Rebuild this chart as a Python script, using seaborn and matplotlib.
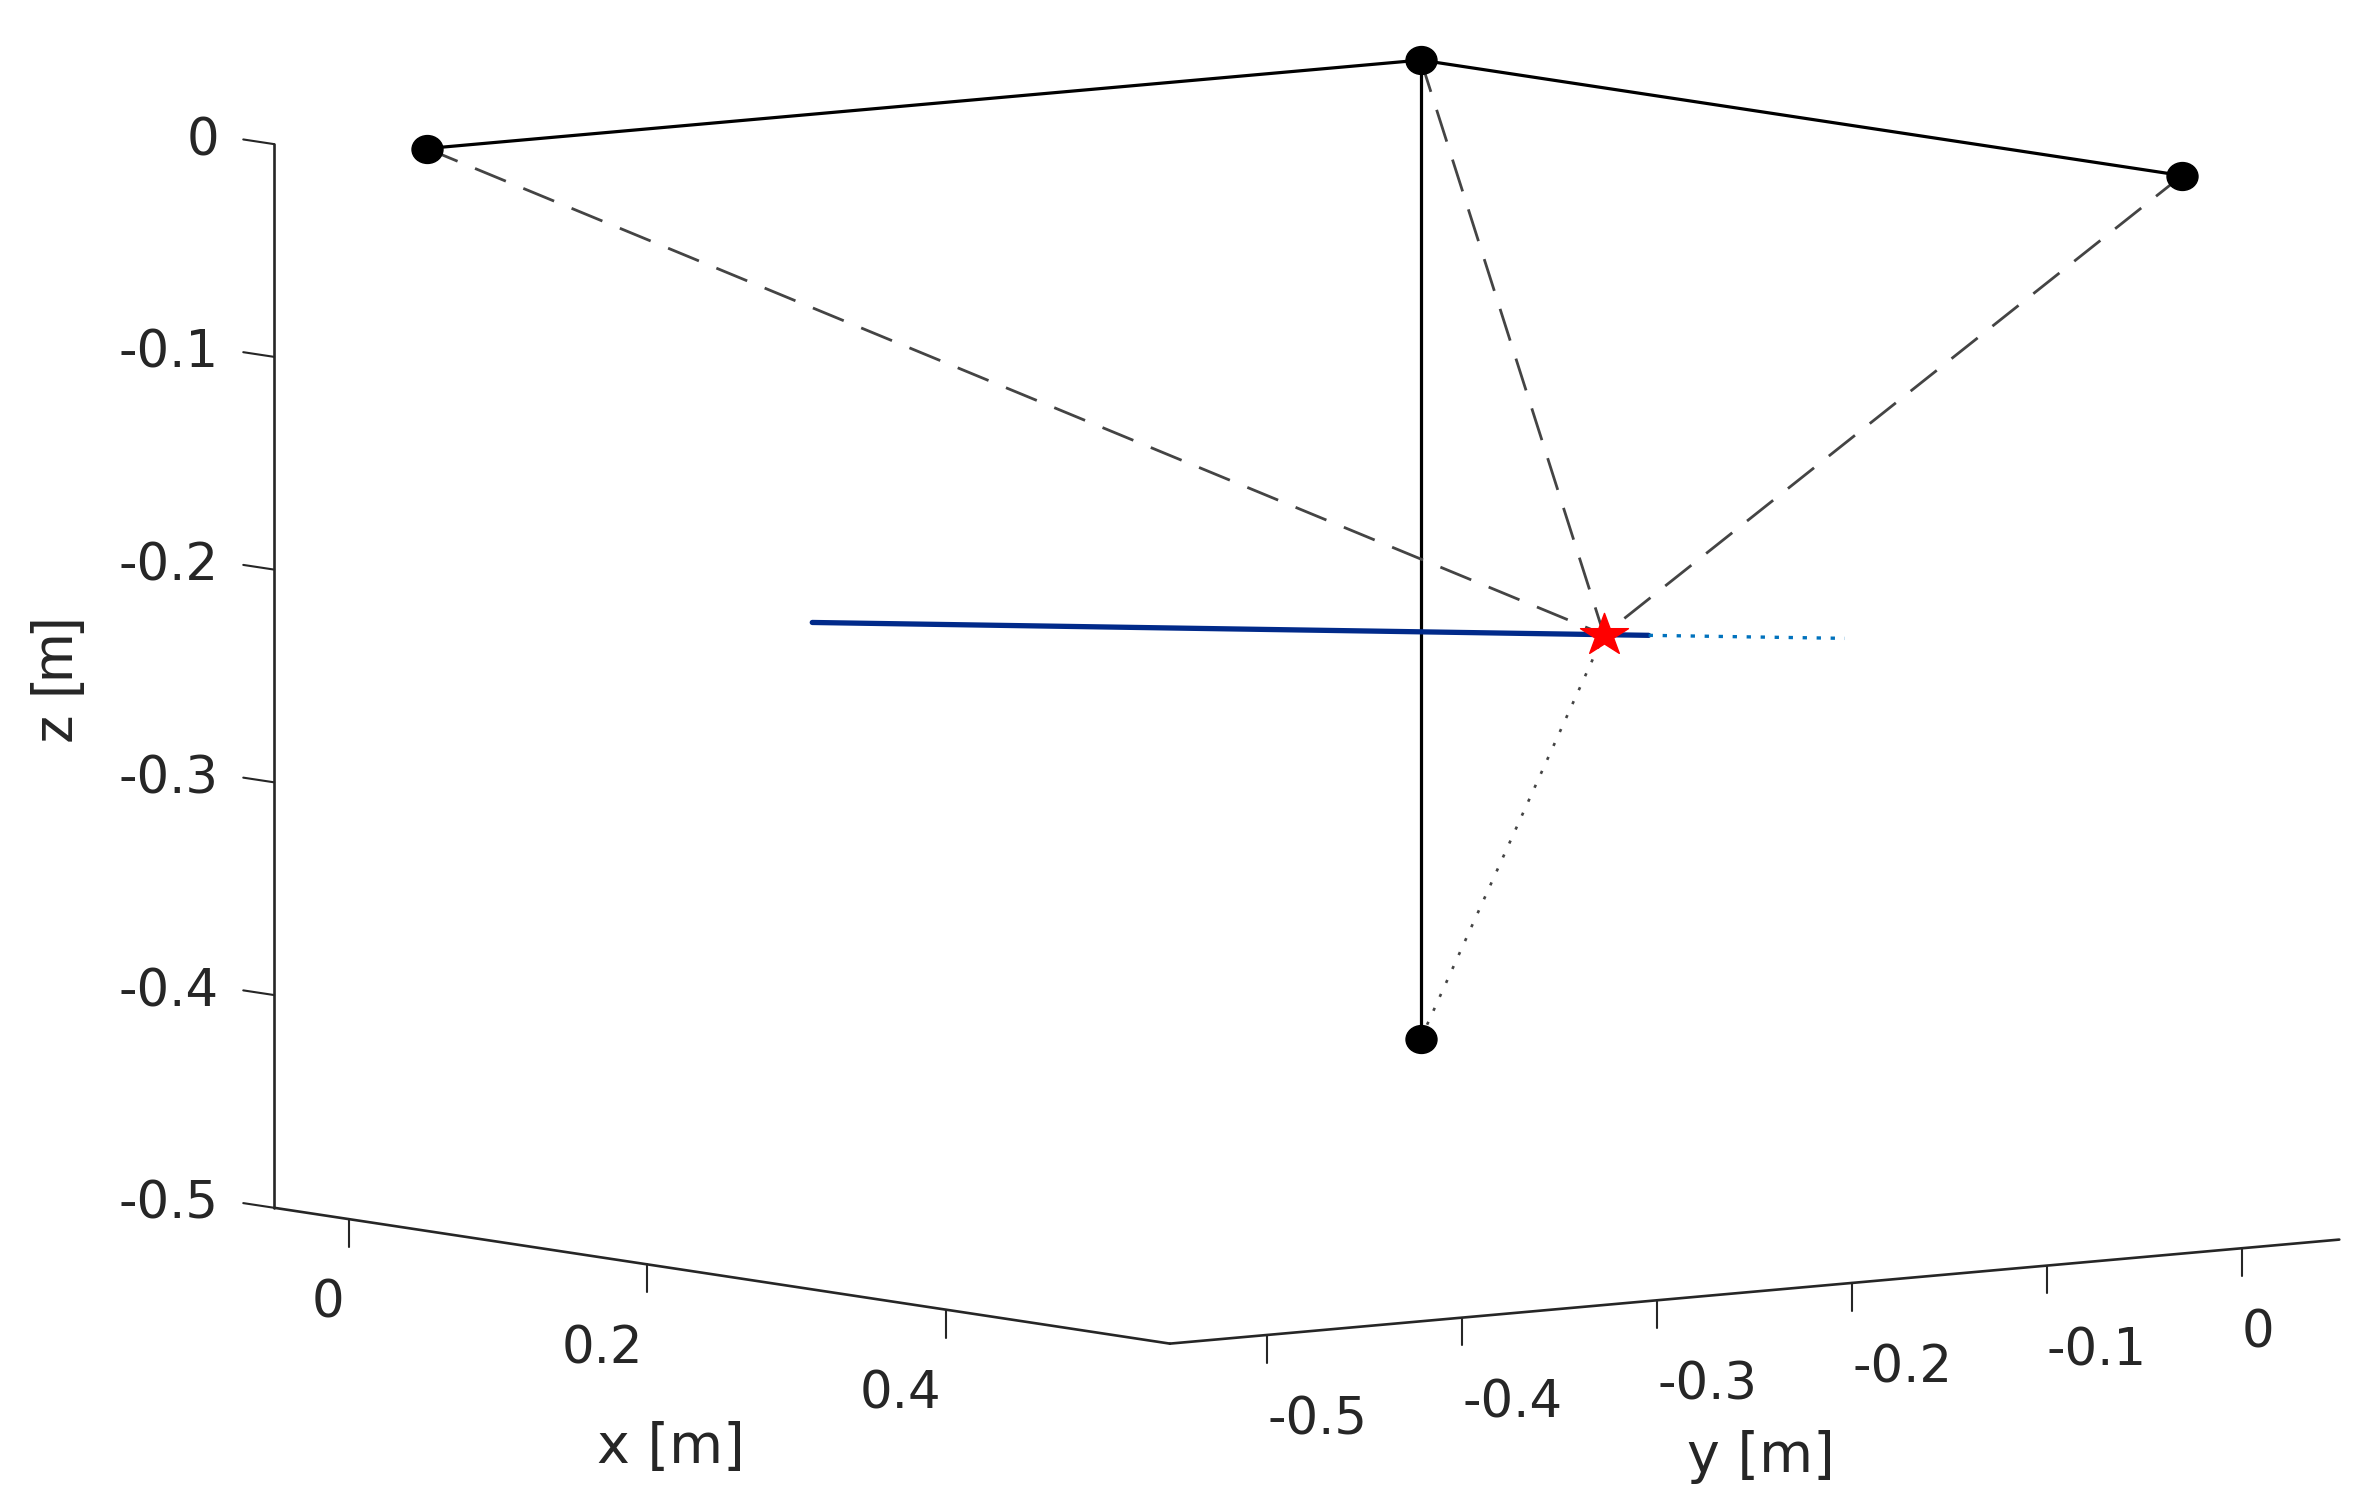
import numpy as np
import matplotlib
matplotlib.use("Agg")
import matplotlib.pyplot as plt
import seaborn as sns
from matplotlib.path import Path
from matplotlib.transforms import Affine2D
from mpl_toolkits.mplot3d import proj3d

sns.set_theme(style="white")
plt.rcParams['font.family'] = ['DejaVu Sans']

# cable anchor points [m]: left top, middle top, right top, bottom
anchor_x = [0.0, 0.0, 0.51, 0.0]
anchor_y = [-0.51, 0.0, 0.0, 0.0]
anchor_z = [0.0, 0.0, 0.0, -0.46]

# end effector (red star)
ee_x = 0.342
ee_y = -0.168
ee_z = -0.22

# trajectory: part already done (solid) and remaining part (dotted)
done_x = [0.112, 0.17, 0.23, 0.29, 0.342, 0.355]
done_y = [-0.398, -0.34, -0.28, -0.22, -0.168, -0.155]
done_z = [-0.22, -0.22, -0.22, -0.22, -0.22, -0.22]
rest_x = [0.355, 0.385, 0.412]
rest_y = [-0.155, -0.125, -0.098]
rest_z = [-0.22, -0.22, -0.22]

# axes
xlim = (-0.05, 0.55)
ylim = (-0.55, 0.05)
zlim = (-0.5, 0.0)
xticks = [0.0, 0.2, 0.4]
xtick_labels = ['0', '0.2', '0.4']
yticks = [-0.5, -0.4, -0.3, -0.2, -0.1, 0.0]
ytick_labels = ['-0.5', '-0.4', '-0.3', '-0.2', '-0.1', '0']
zticks = [0.0, -0.1, -0.2, -0.3, -0.4, -0.5]
ztick_labels = ['0', '-0.1', '-0.2', '-0.3', '-0.4', '-0.5']

W, H = 2365, 1507
fig = plt.figure(figsize=(W / 100, H / 100), dpi=100)
ax = fig.add_axes([0, 0, 1, 1], projection='3d', proj_type='ortho',
                  computed_zorder=False)
ax.set_xlim(*xlim)
ax.set_ylim(*ylim)
ax.set_zlim(*zlim)
ax.view_init(elev=6.67, azim=-37.45)
ax.set_box_aspect((1, 1, 0.727))
ax.set_axis_off()

axc = '#262626'
x0, x1 = xlim
y0, y1 = ylim
z0, z1 = zlim

# axis lines (matlab style, box off)
ax.plot([x0, x1], [y0, y0], [z0, z0], color=axc, lw=1.9, zorder=1)
ax.plot([x1, x1], [y0, y1], [z0, z0], color=axc, lw=1.9, zorder=1)
ax.plot([x0, x0], [y0, y0], [z0, z1], color=axc, lw=1.9, zorder=1)

# tick marks
for xt in xticks:
    ax.plot([xt, xt], [y0, y0], [z0, z0 - 0.0131], color=axc, lw=1.5, zorder=1)
for yt in yticks:
    ax.plot([x1, x1], [yt, yt], [z0, z0 - 0.0131], color=axc, lw=1.5, zorder=1)
for zt in zticks:
    ax.plot([x0, x0 - 0.0207], [y0, y0], [zt, zt], color=axc, lw=1.5, zorder=1)

# frame: solid black lines between anchors
ax.plot([anchor_x[0], anchor_x[1], anchor_x[2]],
        [anchor_y[0], anchor_y[1], anchor_y[2]],
        [anchor_z[0], anchor_z[1], anchor_z[2]], color='black', lw=2.3, zorder=2)
ax.plot([anchor_x[1], anchor_x[3]], [anchor_y[1], anchor_y[3]],
        [anchor_z[1], anchor_z[3]], color='black', lw=2.3, zorder=2)

# cables
cable_c = '#444444'
for i in range(3):
    ax.plot([anchor_x[i], ee_x], [anchor_y[i], ee_y], [anchor_z[i], ee_z],
            color=cable_c, lw=2.0, dashes=(12.0, 6.8), zorder=2)
ax.plot([anchor_x[3], ee_x], [anchor_y[3], ee_y], [anchor_z[3], ee_z],
        color=cable_c, lw=1.9, dashes=(1.2, 4.6), zorder=2)

# trajectory
ax.plot(done_x, done_y, done_z, color='#012a8a', lw=3.8, zorder=3)
ax.plot(rest_x, rest_y, rest_z, color='#0072BD', lw=2.4, dashes=(1.3, 2.9),
        zorder=3)

# markers (slightly wide, as in the reference)
dot = Path.unit_circle().transformed(Affine2D().scale(1.0, 0.9))
ax.plot(anchor_x, anchor_y, anchor_z, ls='none', marker=dot, ms=22.3,
        color='black', zorder=4)
star = Path.unit_regular_star(5, 0.381966).transformed(Affine2D().scale(1.14, 1.0))
ax.plot([ee_x], [ee_y], [ee_z], ls='none', marker=star, ms=34.5,
        color='red', mec='red', zorder=5)


def to_px(xs, ys, zs):
    px, py, _z = proj3d.proj_transform(np.asarray(xs, float), np.asarray(ys, float),
                                       np.asarray(zs, float), ax.get_proj())
    return ax.transData.transform(np.column_stack([px, py]))


# place the axes so the box corners land where they are in the reference
ref3d = np.array([[x0, y0, z0], [x1, y1, z0], [x0, y0, z1], [0.0, 0.0, 0.0]])
ref_px = np.array([[274.9, 1208.3], [2339.5, 1240.0], [274.5, 143.8], [1419.5, 59.5]])
tgt = np.column_stack([ref_px[:, 0], H - ref_px[:, 1]])
for _ in range(2):
    fig.canvas.draw()
    cur = to_px(ref3d[:, 0], ref3d[:, 1], ref3d[:, 2])
    bb = ax.bbox
    c0 = np.array([(bb.x0 + bb.x1) / 2, (bb.y0 + bb.y1) / 2])
    s0 = bb.width
    pm, tm = cur.mean(0), tgt.mean(0)
    k = ((cur - pm) * (tgt - tm)).sum() / ((cur - pm) ** 2).sum()
    c1 = tm - k * (pm - c0)
    s1 = k * s0
    ax.set_position([(c1[0] - s1 / 2) / W, (c1[1] - s1 / 2) / H, s1 / W, s1 / H])
fig.canvas.draw()


def label(x, y, z, s, **kw):
    p = to_px([x], [y], [z])[0]
    fig.text(p[0] / W, p[1] / H, s, color=axc, **kw)


# tick labels and axis labels, anchored to 3d points
for xt, lab in zip(xticks, xtick_labels):
    label(xt - 0.003, y0, z0 - 0.0376, lab, ha='right', va='center_baseline',
          fontsize=37)
for yt, lab in zip(yticks, ytick_labels):
    label(x1, yt, z0 - 0.0376, lab, ha='left', va='center_baseline', fontsize=37)
for zt, lab in zip(zticks, ztick_labels):
    label(x0 - 0.037, y0, zt, lab, ha='right', va='center_baseline', fontsize=37)

label(0.2158, y0, z0 - 0.0847, 'x [m]', ha='center', va='center', fontsize=40)
label(x1, -0.247, z0 - 0.0779, 'y [m]', ha='center', va='center', fontsize=40)
label(-0.195, y0, -0.267, 'z [m]', ha='center', va='center', rotation=90,
      fontsize=42, family='Liberation Sans')

fig.savefig('out.png', dpi=100)
